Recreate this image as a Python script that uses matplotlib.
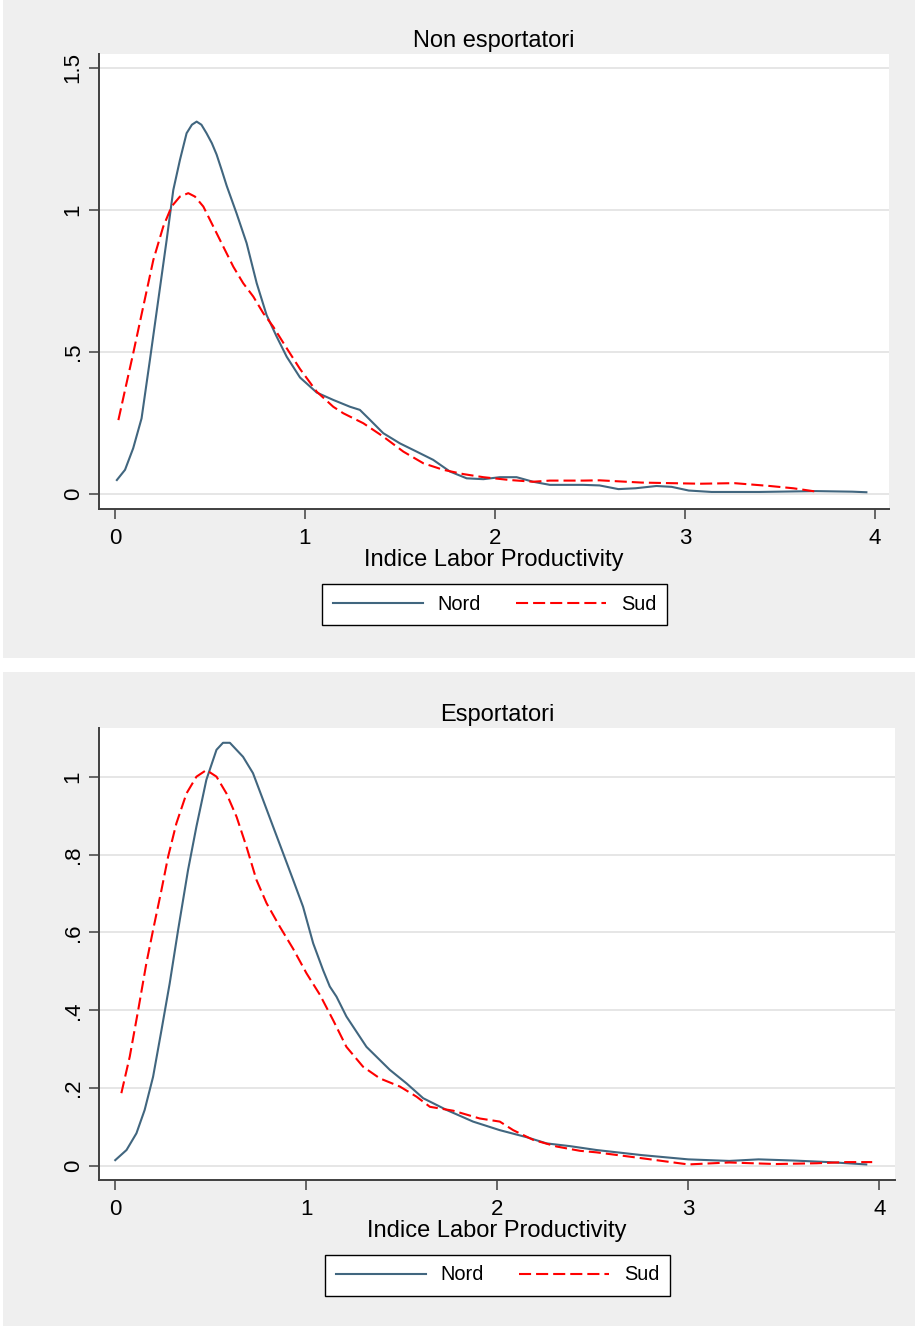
import matplotlib
matplotlib.use('Agg')
import matplotlib.pyplot as plt
from matplotlib.patches import Rectangle

plt.rcParams['font.family'] = ['Liberation Sans', 'DejaVu Sans']

# Colori delle due serie (Nord, Sud) e dello sfondo stile Stata
cor_nord = '#41667F'
cor_sud = '#FF0000'
cor_fundo = '#EFEFEF'

# Non esportatori - densita' Nord
ne_nord_x = [0.01, 0.053, 0.096, 0.14, 0.184, 0.228, 0.272, 0.307, 0.342, 0.377, 0.405, 0.43,
             0.455, 0.482, 0.51, 0.535, 0.562, 0.588, 0.64, 0.693, 0.746, 0.798, 0.851, 0.904,
             0.974, 1.062, 1.149, 1.237, 1.289, 1.342, 1.412, 1.5, 1.588, 1.675, 1.763, 1.851,
             1.939, 2.026, 2.114, 2.2, 2.289, 2.465, 2.55, 2.65, 2.74, 2.85, 2.93, 3.02, 3.14,
             3.39, 3.69, 3.88, 3.955]
ne_nord_y = [0.049, 0.085, 0.161, 0.266, 0.472, 0.683, 0.894, 1.07, 1.176, 1.27, 1.30, 1.311,
             1.30, 1.27, 1.235, 1.195, 1.14, 1.085, 0.988, 0.883, 0.742, 0.63, 0.554, 0.483,
             0.41, 0.357, 0.331, 0.307, 0.296, 0.261, 0.214, 0.178, 0.149, 0.12, 0.079, 0.055,
             0.052, 0.059, 0.059, 0.043, 0.032, 0.032, 0.03, 0.017, 0.02, 0.028, 0.025, 0.012, 0.007,
             0.007, 0.01, 0.008, 0.006]

# Non esportatori - densita' Sud
ne_sud_x = [0.018, 0.061, 0.096, 0.149, 0.202, 0.254, 0.298, 0.342, 0.386, 0.421, 0.465, 0.518,
            0.57, 0.623, 0.675, 0.728, 0.781, 0.833, 0.904, 0.974, 1.062, 1.149, 1.202, 1.307,
            1.412, 1.518, 1.623, 1.728, 1.833, 1.939, 2.079, 2.2, 2.289, 2.465, 2.55, 2.773,
            3.08, 3.26, 3.447, 3.57, 3.694]
ne_sud_y = [0.26, 0.39, 0.495, 0.66, 0.824, 0.941, 1.012, 1.047, 1.059, 1.047, 1.012, 0.941,
            0.871, 0.8, 0.742, 0.695, 0.636, 0.589, 0.513, 0.44, 0.36, 0.307, 0.284, 0.249,
            0.202, 0.149, 0.108, 0.085, 0.07, 0.059, 0.049, 0.043, 0.047, 0.047, 0.048, 0.04,
            0.036, 0.038, 0.028, 0.02, 0.008]

# Esportatori - densita' Nord
es_nord_x = [0.0, 0.059, 0.111, 0.154, 0.198, 0.242, 0.285, 0.329, 0.381, 0.425, 0.477, 0.53,
             0.564, 0.6, 0.669, 0.721, 0.774, 0.826, 0.879, 0.931, 0.983, 1.036, 1.088, 1.123,
             1.158, 1.21, 1.315, 1.437, 1.525, 1.612, 1.734, 1.873, 2.013, 2.153, 2.258, 2.38,
             2.519, 2.755, 2.999, 3.214, 3.367, 3.55, 3.733, 3.931]
es_nord_y = [0.015, 0.041, 0.084, 0.144, 0.229, 0.349, 0.469, 0.606, 0.76, 0.872, 0.992, 1.069,
             1.087, 1.087, 1.051, 1.009, 0.94, 0.872, 0.803, 0.735, 0.666, 0.572, 0.503, 0.461,
             0.435, 0.384, 0.306, 0.247, 0.212, 0.174, 0.144, 0.114, 0.092, 0.074, 0.058, 0.051,
             0.041, 0.028, 0.017, 0.013, 0.017, 0.014, 0.01, 0.004]

# Esportatori - densita' Sud
es_sud_x = [0.032, 0.076, 0.12, 0.163, 0.198, 0.242, 0.277, 0.32, 0.373, 0.425, 0.477, 0.53,
            0.582, 0.635, 0.687, 0.739, 0.792, 0.861, 0.931, 1.001, 1.071, 1.14, 1.21, 1.297,
            1.385, 1.49, 1.577, 1.647, 1.769, 1.908, 2.013, 2.083, 2.188, 2.31, 2.432, 2.519,
            2.755, 2.999, 3.214, 3.458, 3.672, 3.827, 3.962]
es_sud_y = [0.187, 0.281, 0.4, 0.521, 0.606, 0.709, 0.795, 0.88, 0.957, 1.0, 1.017, 1.0,
            0.957, 0.897, 0.82, 0.735, 0.675, 0.615, 0.558, 0.495, 0.44, 0.375, 0.306, 0.255,
            0.225, 0.204, 0.178, 0.152, 0.142, 0.122, 0.114, 0.092, 0.067, 0.05, 0.039, 0.035,
            0.02, 0.004, 0.009, 0.005, 0.007, 0.01, 0.01]

x_ticks = [0, 1, 2, 3, 4]
ne_y_ticks = [0, 0.5, 1, 1.5]
ne_y_labels = ['0', '.5', '1', '1.5']
es_y_ticks = [0, 0.2, 0.4, 0.6, 0.8, 1]
es_y_labels = ['0', '.2', '.4', '.6', '.8', '1']

W, H = 915, 1326
fig = plt.figure(figsize=(W / 100, H / 100), dpi=100, facecolor='white')

# sfondi grigi dei due pannelli (dietro gli assi)
fig.patches.append(Rectangle((3 / W, 1 - 658 / H), 1, 658 / H, transform=fig.transFigure,
                             facecolor=cor_fundo, edgecolor='none', zorder=-10))
fig.patches.append(Rectangle((3 / W, 0), 1, 1 - 672 / H, transform=fig.transFigure,
                             facecolor=cor_fundo, edgecolor='none', zorder=-10))


def cria_painel(rect, titulo, nord_x, nord_y, sud_x, sud_y, yticks, ylabels, xlim, ylim, leg_xy):
    ax = fig.add_axes(rect)
    ax.set_facecolor('white')
    ax.plot(nord_x, nord_y, color=cor_nord, lw=1.5, label='Nord', zorder=3)
    ax.plot(sud_x, sud_y, color=cor_sud, lw=1.5, dashes=(5.8, 2.4), label='Sud', zorder=3)
    ax.set_xlim(*xlim)
    ax.set_ylim(*ylim)
    ax.set_xticks(x_ticks)
    ax.set_yticks(yticks)
    ax.set_yticklabels(ylabels, rotation=90, va='center')
    for y in yticks:
        ax.axhline(y, color='#E4E4E4', lw=1.3, zorder=1)
    for s in ['top', 'right']:
        ax.spines[s].set_visible(False)
    for s in ['left', 'bottom']:
        ax.spines[s].set_color('#404040')
        ax.spines[s].set_linewidth(1.4)
    ax.tick_params(axis='both', direction='out', length=7, width=1.1, color='#404040',
                   labelsize=16, labelcolor='black')
    ax.tick_params(axis='x', pad=6.5)
    ax.tick_params(axis='y', pad=4)
    ax.set_xlabel('Indice Labor Productivity', fontsize=17, labelpad=0.5)
    ax.set_title(titulo, fontsize=17, pad=5)
    leg = fig.legend(*ax.get_legend_handles_labels(), loc='center', bbox_to_anchor=leg_xy,
                     bbox_transform=fig.transFigure, ncol=2, fontsize=14.4, frameon=True,
                     fancybox=False, edgecolor='black', facecolor='white', framealpha=1,
                     handlelength=4.5, handletextpad=0.75, columnspacing=1.75, borderpad=0.55)
    leg.get_frame().set_linewidth(1.0)
    return ax


cria_painel([99 / W, 1 - 509 / H, 790 / W, 455 / H], 'Non esportatori',
            ne_nord_x, ne_nord_y, ne_sud_x, ne_sud_y, ne_y_ticks, ne_y_labels,
            (-0.084, 4.074), (-0.053, 1.549), (494.5 / W, 1 - 604.5 / H))

cria_painel([99 / W, 1 - 1180 / H, 796.5 / W, 452 / H], 'Esportatori',
            es_nord_x, es_nord_y, es_sud_x, es_sud_y, es_y_ticks, es_y_labels,
            (-0.085, 4.084), (-0.036, 1.125), (497.5 / W, 1 - 1275 / H))

plt.savefig('out.png', dpi=100, facecolor=fig.get_facecolor())
plt.close()
